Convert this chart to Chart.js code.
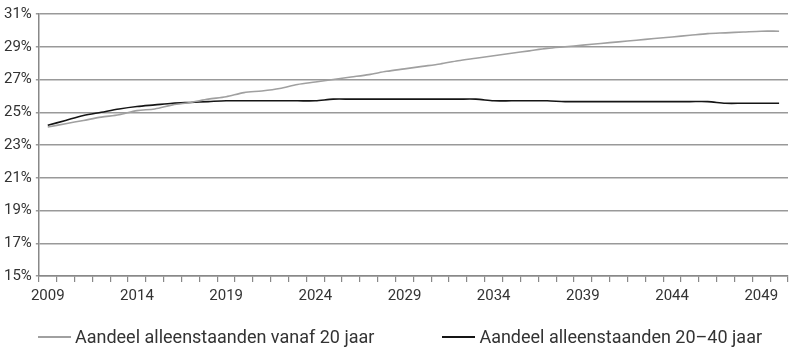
<!DOCTYPE html>
<html>
<head>
<meta charset="utf-8">
<script src="https://cdn.jsdelivr.net/npm/chart.js@4.4.0/dist/chart.umd.min.js"></script>
<style>
  html, body { margin: 0; padding: 0; background: #fff; }
  #wrap { position: relative; width: 800px; height: 352px; }
  #legend {
    position: absolute; left: 0; right: 0; top: 326px;
    display: flex; justify-content: center; gap: 68px;
    font-family: Roboto, 'DejaVu Sans', sans-serif; font-size: 18px; color: #333;
  }
  #legend .item { display: flex; align-items: center; white-space: nowrap; }
  #legend .swatch { display: inline-block; width: 33px; height: 2px; margin-right: 4px; }
</style>
</head>
<body>
<div id="wrap">
  <canvas id="myChart"></canvas>
  <div id="legend"></div>
</div>
<script>
// years 2009 - 2050
const years = [];
for (let y = 2009; y <= 2050; y++) years.push(String(y));

// share of single people, in %
const vanaf20 = [
  24.1, 24.3, 24.5, 24.7, 24.85, 25.1, 25.2, 25.45, 25.6, 25.8,
  25.95, 26.2, 26.3, 26.45, 26.7, 26.85, 27.0, 27.15, 27.3, 27.5,
  27.65, 27.8, 27.95, 28.15, 28.3, 28.45, 28.6, 28.75, 28.9, 29.0,
  29.1, 29.2, 29.3, 29.4, 29.5, 29.6, 29.7, 29.8, 29.85, 29.9,
  29.95, 29.95
];
const twintigTot40 = [
  24.2, 24.5, 24.8, 25.0, 25.2, 25.35, 25.45, 25.55, 25.6, 25.65,
  25.7, 25.7, 25.7, 25.7, 25.7, 25.7, 25.8, 25.8, 25.8, 25.8,
  25.8, 25.8, 25.8, 25.8, 25.8, 25.7, 25.7, 25.7, 25.7, 25.65,
  25.65, 25.65, 25.65, 25.65, 25.65, 25.65, 25.65, 25.65, 25.55, 25.55,
  25.55, 25.55
];

const yMin = 15, yMax = 31, yStep = 2;

const font = "Roboto, 'DejaVu Sans', sans-serif";

var ctx = document.getElementById('myChart').getContext('2d');
var myChart = new Chart(ctx, {
  type: 'line',
  data: {
    labels: years,
    datasets: [{
      label: 'Aandeel alleenstaanden vanaf 20 jaar',
      data: vanaf20,
      borderColor: '#a0a0a0',
      backgroundColor: '#a0a0a0',
      borderWidth: 1.6,
      pointRadius: 0,
      tension: 0.3,
      fill: false
    }, {
      label: 'Aandeel alleenstaanden 20\u201340 jaar',
      data: twintigTot40,
      borderColor: '#151515',
      backgroundColor: '#151515',
      borderWidth: 1.6,
      pointRadius: 0,
      tension: 0.3,
      fill: false
    }]
  },
  options: {
    responsive: true,
    maintainAspectRatio: false,
    animation: false,
    layout: { padding: { top: 14, right: 12, left: 0, bottom: 42 } },
    plugins: {
      tooltip: { enabled: false },
      legend: { display: false }
    },
    scales: {
      x: {
        type: 'category',
        offset: true,
        grid: {
          offset: true,
          drawOnChartArea: false,
          drawTicks: true,
          tickLength: 6,
          color: '#888',
          lineWidth: 1.2
        },
        border: { color: '#888', width: 1.5 },
        ticks: {
          autoSkip: false,
          maxRotation: 0,
          color: '#333',
          font: { family: font, size: 15 },
          padding: 5,
          callback: function(val, i) {
            return (i % 5 === 0) ? years[i] : '';
          }
        }
      },
      y: {
        min: yMin,
        max: yMax,
        ticks: {
          stepSize: yStep,
          autoSkip: false,
          color: '#333',
          font: { family: font, size: 15 },
          padding: 4,
          callback: function(v) { return v + '%'; }
        },
        grid: {
          color: '#999',
          lineWidth: 1.5,
          tickLength: 3
        },
        border: { color: '#888', width: 1.5 }
      }
    }
  }
});

// html legend built from the datasets
var legend = document.getElementById('legend');
myChart.data.datasets.forEach(function(ds) {
  var item = document.createElement('span');
  item.className = 'item';
  var sw = document.createElement('span');
  sw.className = 'swatch';
  sw.style.background = ds.borderColor;
  item.appendChild(sw);
  item.appendChild(document.createTextNode(ds.label));
  legend.appendChild(item);
});
</script>
</body>
</html>
